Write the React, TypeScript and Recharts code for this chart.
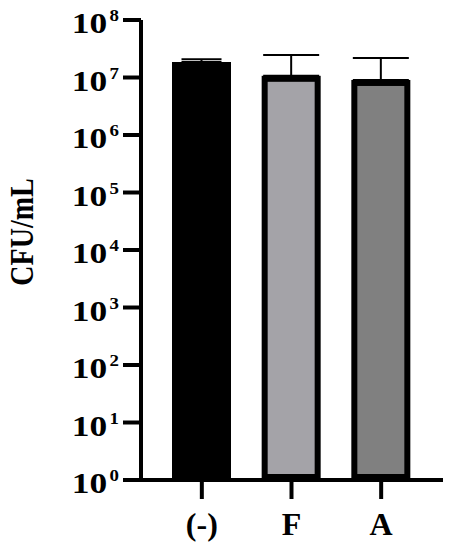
import { Bar, BarChart, Cell, ErrorBar, XAxis, YAxis } from "recharts";

const groups = ["(-)", "F", "A"];
const cfuMeans = [1.86e7, 1.07e7, 9.06e6];
const cfuErrNarrow = [2.1e6, null, null];
const cfuErrWide = [null, 1.38e7, 1.27e7];
const barFills = ["#000000", "#a4a3a8", "#808080"];
const yTicks = [1e0, 1e1, 1e2, 1e3, 1e4, 1e5, 1e6, 1e7, 1e8];

const data = groups.map((group, i) => ({
  group,
  cfu: cfuMeans[i],
  errNarrow: cfuErrNarrow[i] == null ? null : [0, cfuErrNarrow[i]],
  errWide: cfuErrWide[i] == null ? null : [0, cfuErrWide[i]],
}));

const FONT = '"Liberation Serif", "Times New Roman", serif';

// 10 with a superscript power, a bit wider than plain Times like the original
function PowerTick(props: any) {
  const { x, y, payload } = props;
  const exp = Math.round(Math.log10(payload.value));
  return (
    <text
      transform={`translate(${x + 1} ${y + 13}) scale(1.18 1)`}
      x={0}
      y={0}
      textAnchor="end"
      fontFamily={FONT}
      fontWeight="bold"
      style={{ fontSize: 30 }}
      fill="#000"
    >
      <tspan style={{ fontSize: 30 }}>10</tspan>
      <tspan style={{ fontSize: 16 }} dx={2} dy={-12}>
        {exp}
      </tspan>
    </text>
  );
}

function GroupTick(props: any) {
  const { x, payload } = props;
  return (
    <text
      x={x}
      y={535}
      textAnchor="middle"
      fontFamily={FONT}
      fontWeight="bold"
      style={{ fontSize: 32 }}
      fill="#000"
    >
      {payload.value}
    </text>
  );
}

function OutlinedBar(props: any) {
  const { x, y, width, height, fill } = props;
  if (height == null || height <= 6) return null;
  return (
    <rect
      x={x + 3}
      y={y + 3}
      width={width - 6}
      height={height - 6}
      fill={fill}
      stroke="#000"
      strokeWidth={6}
    />
  );
}

export default function App() {
  return (
    <div style={{ position: "absolute", left: 0, top: 0 }}>
      <BarChart
        width={451}
        height={550}
        data={data}
        margin={{ top: 20, right: 8, bottom: 0, left: 0 }}
        barSize={59}
      >
        <XAxis
          dataKey="group"
          height={70}
          padding={{ left: 16, right: 17 }}
          tickSize={19}
          axisLine={{ stroke: "#000", strokeWidth: 4 }}
          tickLine={{ stroke: "#000", strokeWidth: 4 }}
          tick={(p: any) => <GroupTick {...p} />}
        />
        <YAxis
          scale="log"
          domain={[1, 1e8]}
          allowDataOverflow
          ticks={yTicks}
          interval={0}
          width={141}
          tickSize={18}
          tickMargin={5}
          axisLine={{ stroke: "#000", strokeWidth: 4 }}
          tickLine={{ stroke: "#000", strokeWidth: 4 }}
          tick={(p: any) => <PowerTick {...p} />}
          label={{
            content: () => (
              <text
                transform="translate(33 232) scale(1.2 1) rotate(-90)"
                x={0}
                y={0}
                textAnchor="middle"
                fontFamily={FONT}
                fontWeight="bold"
                style={{ fontSize: 28 }}
                fill="#000"
              >
                CFU/mL
              </text>
            ),
          }}
        />
        <Bar dataKey="cfu" shape={OutlinedBar} isAnimationActive={false}>
          {data.map((d, i) => (
            <Cell key={d.group} fill={barFills[i]} />
          ))}
          <ErrorBar
            dataKey="errNarrow"
            width={20}
            stroke="#000"
            strokeWidth={2}
            isAnimationActive={false}
          />
          <ErrorBar
            dataKey="errWide"
            width={28}
            stroke="#000"
            strokeWidth={2}
            isAnimationActive={false}
          />
        </Bar>
      </BarChart>
    </div>
  );
}
